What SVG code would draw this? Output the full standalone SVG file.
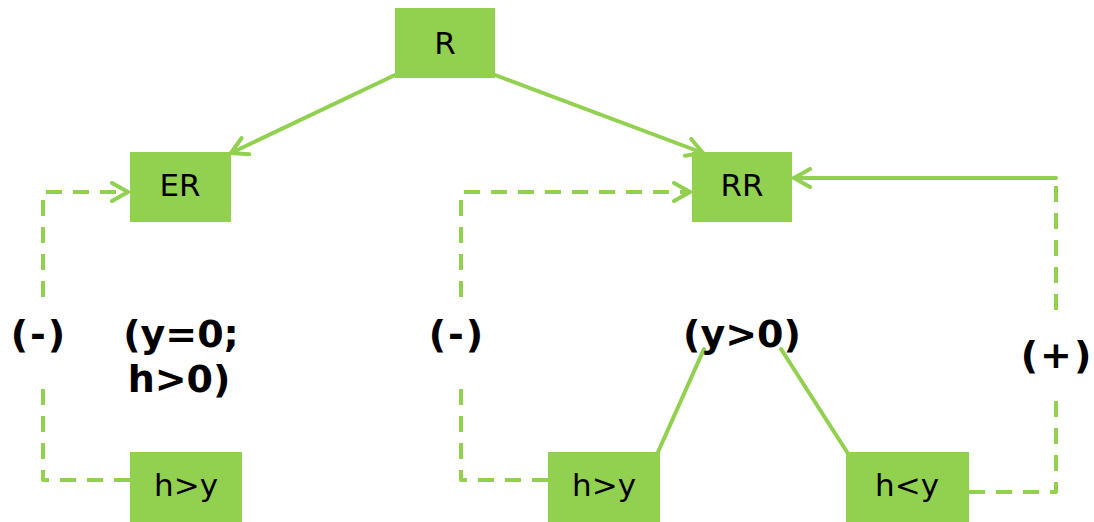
<svg xmlns="http://www.w3.org/2000/svg" width="1094" height="522" viewBox="0 0 1094 522">
<style>
.box{fill:#92D050;}
.bt{font-family:"DejaVu Sans",Verdana,sans-serif;font-size:31px;fill:#000;text-anchor:middle;}
.lb{font-family:"DejaVu Sans",Verdana,sans-serif;font-size:38px;font-weight:bold;fill:#000;text-anchor:middle;}
.sp{letter-spacing:2px;}
.c{fill:none;stroke:#92D050;stroke-width:4;stroke-linecap:round;stroke-linejoin:round;}
.d{stroke-dasharray:16 11;stroke-linecap:butt;}
</style>
<defs>
<marker id="ah" viewBox="0 0 22 22" refX="19" refY="11" markerWidth="22" markerHeight="22" markerUnits="userSpaceOnUse" orient="auto">
<path d="M3,2 L19,11 L3,20" fill="none" stroke="#92D050" stroke-width="4" stroke-linecap="round" stroke-linejoin="round"/>
</marker>
</defs>
<g id="connectors">
<path class="c" d="M395,75 L231,153" marker-end="url(#ah)"/>
<path class="c" d="M495,75 L703,153" marker-end="url(#ah)"/>
<path class="c d" d="M130,480 H43 V378 M43,297 V192 H128" marker-end="url(#ah)"/>
<path class="c d" d="M548,480 H461 V378 M461,297 V192 H690" marker-end="url(#ah)"/>
<path class="c" d="M1056,178 H794" marker-end="url(#ah)"/>
<path class="c d" d="M969,492 H1056 V392 M1056,310 V182"/>
<path class="c" d="M658,452 L704,349"/>
<path class="c" d="M781,349 L847,452"/>
</g>
<g id="node-R"><rect class="box" x="395" y="8" width="100" height="70"/><text class="bt" x="445" y="54">R</text></g>
<g id="node-ER"><rect class="box" x="130" y="152" width="101" height="70"/><text class="bt" x="180" y="196">ER</text></g>
<g id="node-RR"><rect class="box" x="692" y="152" width="100" height="70"/><text class="bt" x="742" y="196">RR</text></g>
<g id="node-hy1"><rect class="box" x="130" y="452" width="112" height="70"/><text class="bt" x="186" y="496">h&gt;y</text></g>
<g id="node-hy2"><rect class="box" x="548" y="452" width="112" height="70"/><text class="bt" x="604" y="496">h&gt;y</text></g>
<g id="node-hly"><rect class="box" x="846" y="452" width="123" height="70"/><text class="bt" x="907" y="496">h&lt;y</text></g>
<g id="labels">
<text class="lb sp" x="39" y="347">(-)</text>
<text class="lb" x="181" y="347">(y=0;</text>
<text class="lb" x="179" y="392">h&gt;0)</text>
<text class="lb sp" x="457" y="347">(-)</text>
<text class="lb" x="742" y="347">(y&gt;0)</text>
<text class="lb sp" x="1057" y="368">(+)</text>
</g>
</svg>
